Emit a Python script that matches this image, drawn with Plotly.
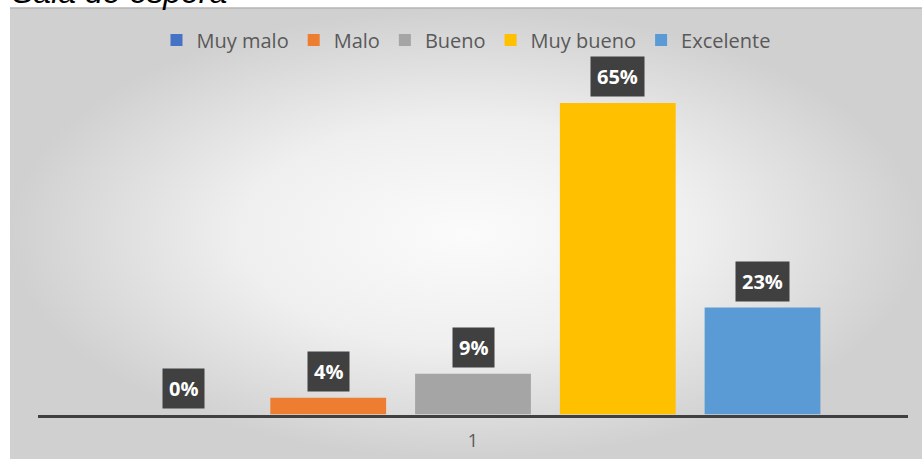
import plotly.graph_objects as go

categories = ["1"]
series_names = ["Muy malo", "Malo", "Bueno", "Muy bueno", "Excelente"]
series_values = [0.0, 0.035, 0.085, 0.65, 0.223]
series_labels = ["0%", "4%", "9%", "65%", "23%"]
series_colors = ["#4472C4", "#ED7D31", "#A5A5A5", "#FFC000", "#5B9BD5"]

W, H = 922, 459
ML, MT = 10, 8
PW, PH = W - ML, H - MT
BARGAP = 0.168
GROUPGAP = 0.2

fig = go.Figure()

# background gradient on a full-size hidden subplot
fig.add_trace(go.Scatter(
    x=[0, 1, 1, 0, 0], y=[0, 0, 1, 1, 0], mode="lines", fill="toself",
    line=dict(width=0), hoverinfo="skip", showlegend=False,
    fillgradient=dict(type="radial", colorscale=[[0, "#fbfbfb"], [0.5, "#efefef"], [1, "#d0d0d0"]]),
    xaxis="x", yaxis="y",
))

for name, val, col in zip(series_names, series_values, series_colors):
    fig.add_trace(go.Bar(
        x=categories, y=[val], name=name, marker=dict(color=col, line=dict(width=0)),
        xaxis="x2", yaxis="y2",
    ))

n = len(series_names)
slot = (1 - BARGAP) / n
annotations = []
for i, (val, lab) in enumerate(zip(series_values, series_labels)):
    xc = -(1 - BARGAP) / 2 + slot * (i + 0.5)
    annotations.append(dict(
        x=xc, y=val, xref="x2", yref="y2", text="<b>" + lab + "</b>", showarrow=False,
        yanchor="bottom", xanchor="center", yshift=6,
        font=dict(family="Open Sans", size=20, color="white"),
        bgcolor="#404040", borderpad=6,
    ))

annotations.append(dict(
    x=0, y=1, xref="paper", yref="paper", xanchor="left", yanchor="bottom",
    yshift=-4, text="<i>Sala de espera</i>", showarrow=False,
    font=dict(family="Liberation Sans", size=32, color="black"),
))

x0 = (38 - ML) / PW
x1 = (908 - ML) / PW
y0 = (H - 414.5) / PH
y1 = (H - 79) / PH

fig.update_layout(
    width=W, height=H,
    margin=dict(l=ML, r=0, t=MT, b=0, pad=0),
    paper_bgcolor="white", plot_bgcolor="rgba(0,0,0,0)",
    barmode="group", bargap=BARGAP, bargroupgap=GROUPGAP,
    xaxis=dict(domain=[0, 1], range=[0, 1], visible=False, fixedrange=True),
    yaxis=dict(domain=[0, 1], range=[0, 1], visible=False, fixedrange=True),
    xaxis2=dict(domain=[x0, x1], anchor="y2", type="category", showgrid=False,
                showline=True, linecolor="#404040", linewidth=2.5, ticks="",
                ticklabelstandoff=8,
                tickfont=dict(family="Open Sans", size=18, color="#595959"), zeroline=False),
    yaxis2=dict(domain=[y0, y1], anchor="x2", range=[0, 0.70], visible=False,
                showgrid=False, zeroline=False),
    legend=dict(orientation="h", x=0.5, xref="paper", xanchor="center", y=(H - 40) / PH,
                yanchor="middle", font=dict(family="Open Sans", size=20, color="#595959"),
                bgcolor="rgba(0,0,0,0)", traceorder="normal"),
    annotations=annotations,
    shapes=[dict(type="line", xref="paper", yref="paper", x0=0, x1=1, y0=1, y1=1,
                 line=dict(color="#b4b4b4", width=1.5))],
    showlegend=True,
)

fig.write_html("out.html", config={"displayModeBar": False},
               post_script="document.body.style.margin='0px';")
